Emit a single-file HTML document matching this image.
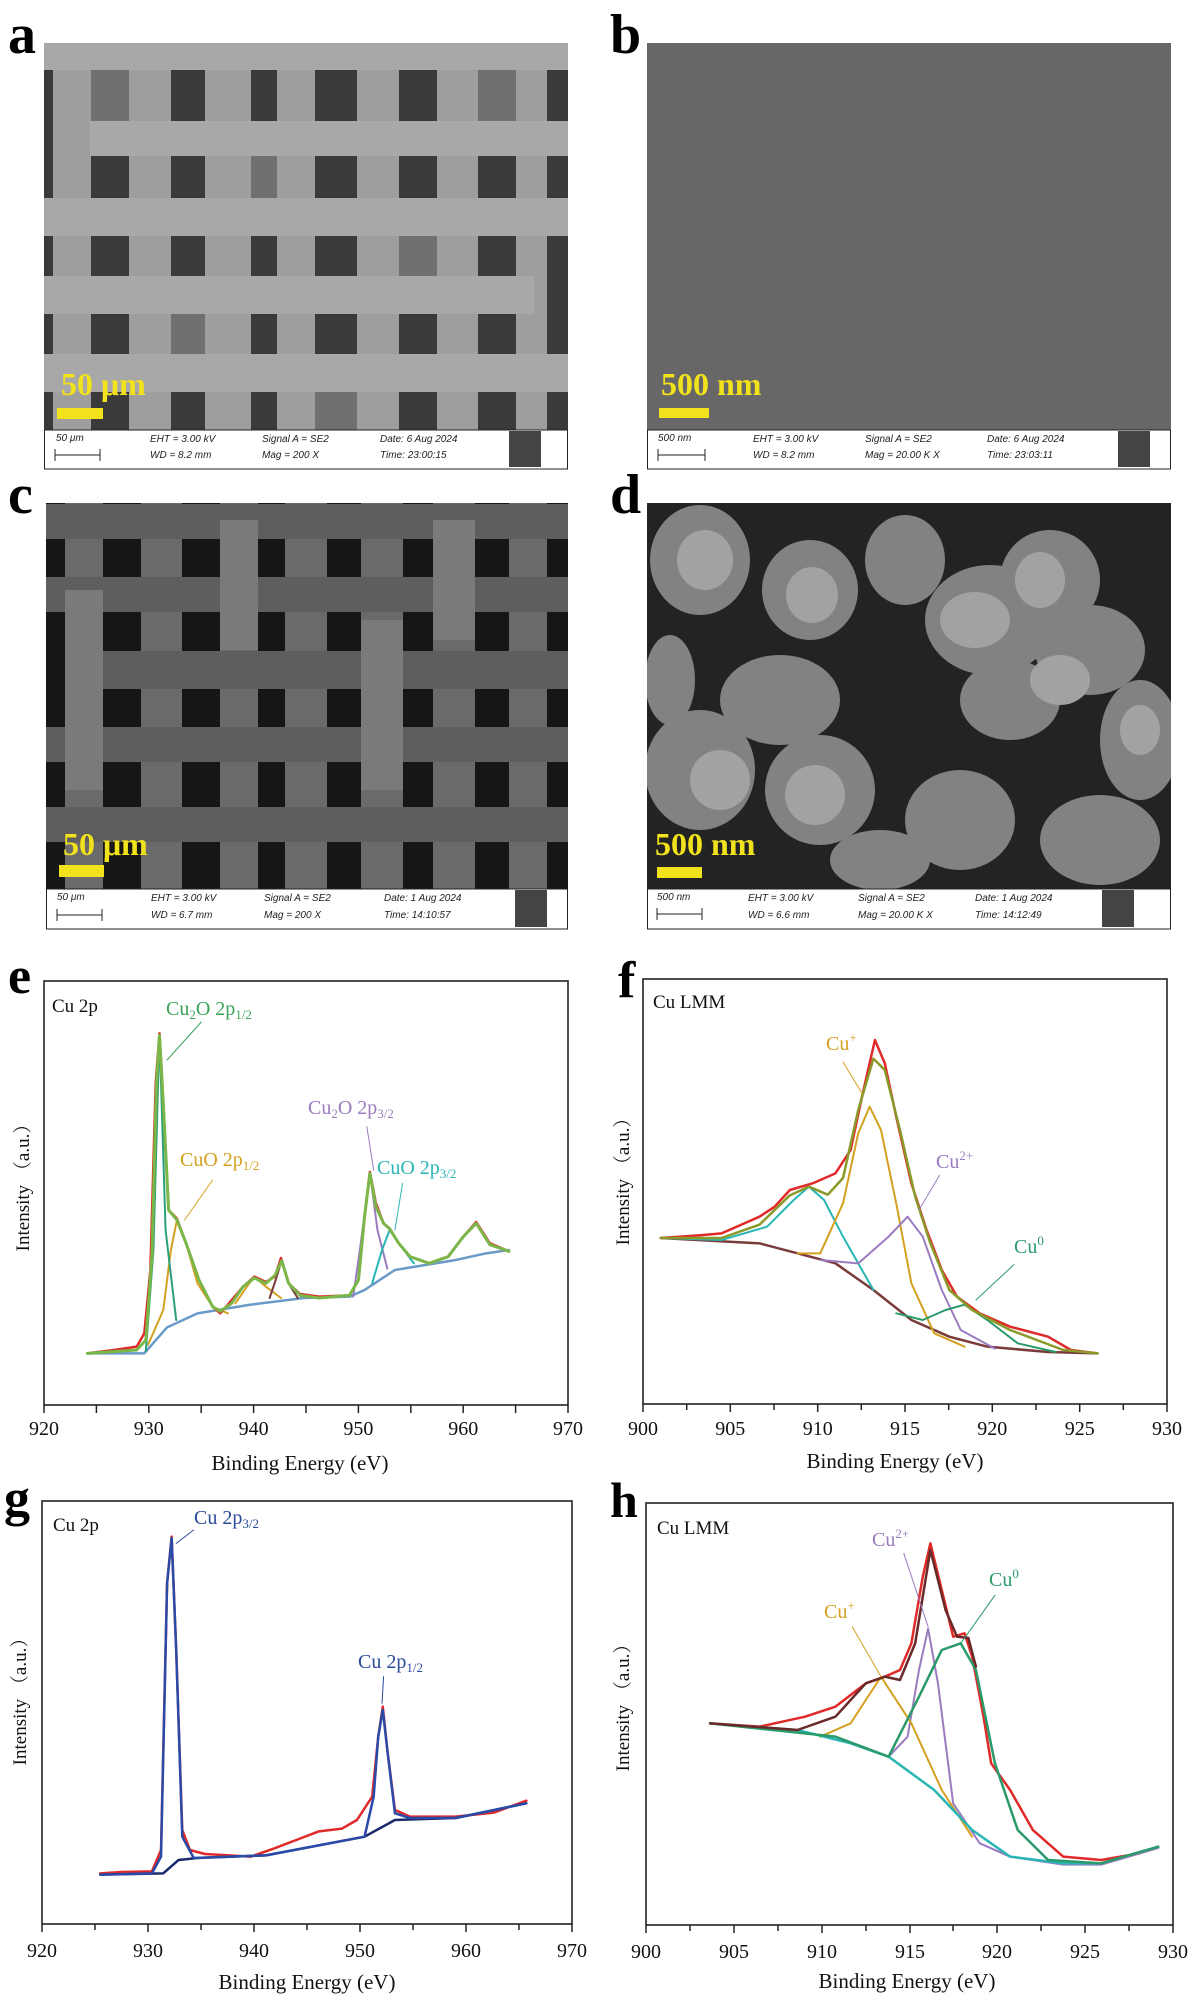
<!DOCTYPE html>
<html><head><meta charset="utf-8"><style>
html,body{margin:0;padding:0;background:#fff;}
svg{display:block;}
.t{font-family:"Liberation Serif",serif;}
.lt{font-family:"Liberation Serif",serif;font-weight:bold;}
.db{font-family:"Liberation Sans",sans-serif;font-style:italic;font-size:10px;fill:#222;}
.sb{font-family:"Liberation Serif",serif;font-weight:bold;font-size:32px;fill:#f2e21c;}
.c path,.c polyline,.c line{fill:none;vector-effect:non-scaling-stroke;stroke-linejoin:round;stroke-linecap:round;}
</style></head><body>
<svg width="1191" height="1995" viewBox="0 0 1191 1995" xmlns="http://www.w3.org/2000/svg">
<defs><clipPath id="cd"><rect x="647" y="503" width="524" height="386"/></clipPath></defs>
<rect width="1191" height="1995" fill="#fff"/>
<text class="lt" x="8" y="53" font-size="56">a</text>
<text class="lt" x="610" y="53" font-size="56">b</text>
<text class="lt" x="8" y="513" font-size="56">c</text>
<text class="lt" x="610" y="513" font-size="56">d</text>
<text class="lt" x="8" y="993" font-size="52">e</text>
<text class="lt" x="618" y="997" font-size="52">f</text>
<text class="lt" x="4" y="1515" font-size="52">g</text>
<text class="lt" x="610" y="1517" font-size="50">h</text>

<rect x="44" y="43" width="524" height="387" fill="#3a3a3a"/>
<g fill="#707070">
<rect x="91" y="70" width="38" height="51"/><rect x="251" y="156" width="26" height="42"/><rect x="399" y="236" width="38" height="40"/><rect x="171" y="314" width="34" height="40"/><rect x="478" y="70" width="38" height="51"/><rect x="315" y="392" width="42" height="38"/></g>
<g fill="#9e9e9e">
<rect x="53" y="43" width="38" height="387"/><rect x="129" y="43" width="42" height="387"/><rect x="205" y="43" width="46" height="387"/><rect x="277" y="43" width="38" height="387"/><rect x="357" y="43" width="42" height="387"/><rect x="437" y="43" width="41" height="387"/><rect x="516" y="43" width="31" height="387"/></g>
<g fill="#a8a8a8">
<rect x="44" y="43" width="524" height="27"/><rect x="90" y="121" width="478" height="35"/><rect x="44" y="198" width="524" height="38"/><rect x="44" y="276" width="490" height="38"/><rect x="44" y="354" width="524" height="38"/></g>
<text class="sb" x="61" y="395">50 μm</text>
<rect x="57" y="408" width="46" height="11" fill="#f2e21c"/>
<rect x="44.5" y="430" width="523" height="39" fill="#fff" stroke="#222"/>
<text class="db" x="56" y="441">50 μm</text><line x1="55" y1="455" x2="100" y2="455" stroke="#222"/><line x1="55" y1="449" x2="55" y2="461" stroke="#222"/><line x1="100" y1="449" x2="100" y2="461" stroke="#222"/>
<text class="db" x="150" y="442">EHT =  3.00 kV</text><text class="db" x="150" y="458">WD =  8.2 mm</text>
<text class="db" x="262" y="442">Signal A = SE2</text><text class="db" x="262" y="458">Mag =    200 X</text>
<text class="db" x="380" y="442">Date: 6 Aug 2024</text><text class="db" x="380" y="458">Time: 23:00:15</text>
<rect x="509" y="431" width="32" height="36" fill="#444"/>

<rect x="647" y="43" width="524" height="387" fill="#676767"/>
<text class="sb" x="661" y="395">500 nm</text>
<rect x="659" y="408" width="50" height="10" fill="#f2e21c"/>
<rect x="647.5" y="430" width="523" height="39" fill="#fff" stroke="#222"/>
<text class="db" x="658" y="441">500 nm</text><line x1="658" y1="455" x2="705" y2="455" stroke="#222"/><line x1="658" y1="449" x2="658" y2="461" stroke="#222"/><line x1="705" y1="449" x2="705" y2="461" stroke="#222"/>
<text class="db" x="753" y="442">EHT =  3.00 kV</text><text class="db" x="753" y="458">WD =  8.2 mm</text>
<text class="db" x="865" y="442">Signal A = SE2</text><text class="db" x="865" y="458">Mag =   20.00 K X</text>
<text class="db" x="987" y="442">Date: 6 Aug 2024</text><text class="db" x="987" y="458">Time: 23:03:11</text>
<rect x="1118" y="431" width="32" height="36" fill="#444"/>

<rect x="46" y="503" width="522" height="386" fill="#161616"/>
<g fill="#6a6a6a">
<rect x="65" y="503" width="38" height="386"/><rect x="141" y="503" width="41" height="386"/><rect x="220" y="503" width="38" height="386"/><rect x="285" y="503" width="42" height="386"/><rect x="361" y="503" width="42" height="386"/><rect x="433" y="503" width="42" height="386"/><rect x="509" y="503" width="38" height="386"/></g>
<g fill="#5e5e5e">
<rect x="46" y="504" width="522" height="35"/><rect x="46" y="577" width="522" height="35"/><rect x="100" y="651" width="468" height="38"/><rect x="46" y="727" width="522" height="35"/><rect x="46" y="807" width="522" height="35"/></g>
<g fill="#7a7a7a">
<rect x="65" y="590" width="38" height="200"/><rect x="220" y="520" width="38" height="130"/><rect x="361" y="620" width="42" height="170"/><rect x="433" y="520" width="42" height="120"/></g>
<text class="sb" x="63" y="855">50 μm</text>
<rect x="59" y="865" width="45" height="12" fill="#f2e21c"/>
<rect x="46.5" y="889" width="521" height="40" fill="#fff" stroke="#222"/>
<text class="db" x="57" y="900">50 μm</text><line x1="57" y1="915" x2="102" y2="915" stroke="#222"/><line x1="57" y1="909" x2="57" y2="921" stroke="#222"/><line x1="102" y1="909" x2="102" y2="921" stroke="#222"/>
<text class="db" x="151" y="901">EHT =  3.00 kV</text><text class="db" x="151" y="918">WD =  6.7 mm</text>
<text class="db" x="264" y="901">Signal A = SE2</text><text class="db" x="264" y="918">Mag =    200 X</text>
<text class="db" x="384" y="901">Date: 1 Aug 2024</text><text class="db" x="384" y="918">Time: 14:10:57</text>
<rect x="515" y="890" width="32" height="37" fill="#444"/>

<rect x="647" y="503" width="524" height="386" fill="#232323"/>
<g clip-path="url(#cd)">
<g fill="#828282">
<ellipse cx="700" cy="560" rx="50" ry="55"/><ellipse cx="810" cy="590" rx="48" ry="50"/><ellipse cx="905" cy="560" rx="40" ry="45"/><ellipse cx="990" cy="620" rx="65" ry="55"/><ellipse cx="1050" cy="580" rx="50" ry="50"/><ellipse cx="1090" cy="650" rx="55" ry="45"/><ellipse cx="780" cy="700" rx="60" ry="45"/><ellipse cx="700" cy="770" rx="55" ry="60"/><ellipse cx="820" cy="790" rx="55" ry="55"/><ellipse cx="1010" cy="700" rx="50" ry="40"/><ellipse cx="1140" cy="740" rx="40" ry="60"/><ellipse cx="960" cy="820" rx="55" ry="50"/><ellipse cx="1100" cy="840" rx="60" ry="45"/><ellipse cx="880" cy="860" rx="50" ry="30"/><ellipse cx="670" cy="680" rx="25" ry="45"/></g>
<g fill="#a2a2a2">
<ellipse cx="705" cy="560" rx="28" ry="30"/><ellipse cx="812" cy="595" rx="26" ry="28"/><ellipse cx="975" cy="620" rx="35" ry="28"/><ellipse cx="1040" cy="580" rx="25" ry="28"/><ellipse cx="1060" cy="680" rx="30" ry="25"/><ellipse cx="720" cy="780" rx="30" ry="30"/><ellipse cx="815" cy="795" rx="30" ry="30"/><ellipse cx="1140" cy="730" rx="20" ry="25"/></g>
</g>
<text class="sb" x="655" y="855">500 nm</text>
<rect x="657" y="867" width="45" height="11" fill="#f2e21c"/>
<rect x="647.5" y="889" width="523" height="40" fill="#fff" stroke="#222"/>
<text class="db" x="657" y="900">500 nm</text><line x1="657" y1="914" x2="702" y2="914" stroke="#222"/><line x1="657" y1="908" x2="657" y2="920" stroke="#222"/><line x1="702" y1="908" x2="702" y2="920" stroke="#222"/>
<text class="db" x="748" y="901">EHT =  3.00 kV</text><text class="db" x="748" y="918">WD =  6.6 mm</text>
<text class="db" x="858" y="901">Signal A = SE2</text><text class="db" x="858" y="918">Mag =   20.00 K X</text>
<text class="db" x="975" y="901">Date: 1 Aug 2024</text><text class="db" x="975" y="918">Time: 14:12:49</text>
<rect x="1102" y="890" width="32" height="37" fill="#444"/>

<g fill="none" stroke="#222" stroke-width="1.6">
<rect x="44" y="981" width="524" height="424"/>
<rect x="643" y="979" width="524" height="425"/>
<rect x="42" y="1501" width="530" height="423"/>
<rect x="646" y="1503" width="527" height="422"/>
</g>
<g stroke="#222" stroke-width="1.5">
<line x1="44" y1="1405" x2="44" y2="1413"/><line x1="96.4" y1="1405" x2="96.4" y2="1413"/><line x1="148.8" y1="1405" x2="148.8" y2="1413"/><line x1="201.2" y1="1405" x2="201.2" y2="1413"/><line x1="253.6" y1="1405" x2="253.6" y2="1413"/><line x1="306" y1="1405" x2="306" y2="1413"/><line x1="358.4" y1="1405" x2="358.4" y2="1413"/><line x1="410.8" y1="1405" x2="410.8" y2="1413"/><line x1="463.2" y1="1405" x2="463.2" y2="1413"/><line x1="515.6" y1="1405" x2="515.6" y2="1413"/><line x1="568" y1="1405" x2="568" y2="1413"/>
<line x1="643" y1="1404" x2="643" y2="1412"/><line x1="686.7" y1="1404" x2="686.7" y2="1410"/><line x1="730.3" y1="1404" x2="730.3" y2="1412"/><line x1="774" y1="1404" x2="774" y2="1410"/><line x1="817.7" y1="1404" x2="817.7" y2="1412"/><line x1="861.3" y1="1404" x2="861.3" y2="1410"/><line x1="905" y1="1404" x2="905" y2="1412"/><line x1="948.7" y1="1404" x2="948.7" y2="1410"/><line x1="992.3" y1="1404" x2="992.3" y2="1412"/><line x1="1036" y1="1404" x2="1036" y2="1410"/><line x1="1079.7" y1="1404" x2="1079.7" y2="1412"/><line x1="1123.3" y1="1404" x2="1123.3" y2="1410"/><line x1="1167" y1="1404" x2="1167" y2="1412"/>
<line x1="42" y1="1924" x2="42" y2="1932"/><line x1="95" y1="1924" x2="95" y2="1930"/><line x1="148" y1="1924" x2="148" y2="1932"/><line x1="201" y1="1924" x2="201" y2="1930"/><line x1="254" y1="1924" x2="254" y2="1932"/><line x1="307" y1="1924" x2="307" y2="1930"/><line x1="360" y1="1924" x2="360" y2="1932"/><line x1="413" y1="1924" x2="413" y2="1930"/><line x1="466" y1="1924" x2="466" y2="1932"/><line x1="519" y1="1924" x2="519" y2="1930"/><line x1="572" y1="1924" x2="572" y2="1932"/>
<line x1="646" y1="1925" x2="646" y2="1933"/><line x1="690" y1="1925" x2="690" y2="1931"/><line x1="734" y1="1925" x2="734" y2="1933"/><line x1="778" y1="1925" x2="778" y2="1931"/><line x1="822" y1="1925" x2="822" y2="1933"/><line x1="866" y1="1925" x2="866" y2="1931"/><line x1="910" y1="1925" x2="910" y2="1933"/><line x1="953" y1="1925" x2="953" y2="1931"/><line x1="997" y1="1925" x2="997" y2="1933"/><line x1="1041" y1="1925" x2="1041" y2="1931"/><line x1="1085" y1="1925" x2="1085" y2="1933"/><line x1="1129" y1="1925" x2="1129" y2="1931"/><line x1="1173" y1="1925" x2="1173" y2="1933"/>
</g>
<g class="t" font-size="20" fill="#111" text-anchor="middle">
<text x="44" y="1435">920</text><text x="148.8" y="1435">930</text><text x="253.6" y="1435">940</text><text x="358.4" y="1435">950</text><text x="463.2" y="1435">960</text><text x="568" y="1435">970</text>
<text x="643" y="1435">900</text><text x="730.3" y="1435">905</text><text x="817.7" y="1435">910</text><text x="905" y="1435">915</text><text x="992.3" y="1435">920</text><text x="1079.7" y="1435">925</text><text x="1167" y="1435">930</text>
<text x="42" y="1957">920</text><text x="148" y="1957">930</text><text x="254" y="1957">940</text><text x="360" y="1957">950</text><text x="466" y="1957">960</text><text x="572" y="1957">970</text>
<text x="646" y="1958">900</text><text x="734" y="1958">905</text><text x="822" y="1958">910</text><text x="910" y="1958">915</text><text x="997" y="1958">920</text><text x="1085" y="1958">925</text><text x="1173" y="1958">930</text>
<text x="300" y="1470" font-size="21">Binding Energy (eV)</text>
<text x="895" y="1468" font-size="21">Binding Energy (eV)</text>
<text x="307" y="1989" font-size="21">Binding Energy (eV)</text>
<text x="907" y="1988" font-size="21">Binding Energy (eV)</text>
</g>
<g class="t" font-size="19" fill="#111" text-anchor="middle" style='font-family:"Liberation Serif","Noto Serif CJK SC",serif'>
<text transform="translate(29,1183) rotate(-90)">Intensity （a.u.）</text>
<text transform="translate(629,1177) rotate(-90)">Intensity （a.u.）</text>
<text transform="translate(26,1697) rotate(-90)">Intensity （a.u.）</text>
<text transform="translate(629,1703) rotate(-90)">Intensity （a.u.）</text>
</g>
<g class="t" font-size="19" fill="#111">
<text x="52" y="1012">Cu 2p</text><text x="653" y="1008">Cu LMM</text>
<text x="53" y="1531">Cu 2p</text><text x="657" y="1534">Cu LMM</text>
</g>
<g class="t" font-size="20">
<text x="166" y="1015" fill="#3aa35a">Cu<tspan font-size="13" dy="4">2</tspan><tspan dy="-4">O 2p</tspan><tspan font-size="13" dy="4">1/2</tspan></text>
<text x="180" y="1166" fill="#d4a020">CuO 2p<tspan font-size="13" dy="4">1/2</tspan></text>
<text x="308" y="1114" fill="#9b7bbf">Cu<tspan font-size="13" dy="4">2</tspan><tspan dy="-4">O 2p</tspan><tspan font-size="13" dy="4">3/2</tspan></text>
<text x="377" y="1174" fill="#2ab5b5">CuO 2p<tspan font-size="13" dy="4">3/2</tspan></text>
<text x="826" y="1050" fill="#d4a020">Cu<tspan font-size="13" dy="-8">+</tspan></text>
<text x="936" y="1168" fill="#9b7bbf">Cu<tspan font-size="13" dy="-8">2+</tspan></text>
<text x="1014" y="1253" fill="#2a9a6a">Cu<tspan font-size="13" dy="-8">0</tspan></text>
<text x="194" y="1524" fill="#2a4a9a">Cu 2p<tspan font-size="13" dy="4">3/2</tspan></text>
<text x="358" y="1668" fill="#2a4a9a">Cu 2p<tspan font-size="13" dy="4">1/2</tspan></text>
<text x="872" y="1546" fill="#9b7bbf">Cu<tspan font-size="13" dy="-8">2+</tspan></text>
<text x="989" y="1586" fill="#2a9a6a">Cu<tspan font-size="13" dy="-8">0</tspan></text>
<text x="824" y="1618" fill="#d4a020">Cu<tspan font-size="13" dy="-8">+</tspan></text>
</g>

<g class="c" transform="translate(0,950) scale(0.75949,0.66667)">
<polyline stroke="#6a9ac8" stroke-width="2.5" points="115,605 190,605 200,592 220,566 260,545 330,532 400,522 460,520 480,510 520,480 600,465 640,455 670,450"/>
<polyline stroke="#d4a020" stroke-width="2" points="195,592 215,540 225,450 233,405 245,440 260,500 280,535 300,545"/>
<polyline stroke="#d4a020" stroke-width="2" points="310,530 325,505 335,490 350,505 370,522"/>
<polyline stroke="#7a3a3a" stroke-width="2" points="355,522 363,495 371,465 380,500 392,522"/>
<polyline stroke="#9b7bbf" stroke-width="2" points="465,520 475,440 487,333 497,420 510,478"/>
<polyline stroke="#2ab5b5" stroke-width="2" points="490,500 503,450 513,420 525,440 545,470"/>
<polyline stroke="#2aa07a" stroke-width="2" points="192,602 202,450 210,125 218,420 232,555"/>
<polyline stroke="#e02a2a" stroke-width="2.5" points="115,605 150,600 180,595 190,575 198,480 205,200 210,125 215,230 222,390 233,403 245,440 262,495 280,535 290,545 300,532 320,505 335,490 350,498 362,490 370,462 380,500 395,516 420,520 460,518 472,495 480,400 487,333 495,380 505,410 513,418 525,440 540,460 565,470 590,460 610,430 627,408 645,440 670,452"/>
<polyline stroke="#7ab648" stroke-width="3" points="115,605 180,600 192,585 200,460 206,200 210,128 215,230 222,390 233,405 245,440 262,495 280,535 290,542 305,530 320,505 335,492 350,500 362,488 371,466 380,500 395,518 420,522 460,518 472,495 480,400 487,335 495,385 505,410 513,418 525,440 540,460 565,470 590,460 610,430 627,410 645,442 670,452"/>
<line stroke="#3aa35a" stroke-width="1" x1="265" y1="108" x2="220" y2="165"/>
<line stroke="#d4a020" stroke-width="1" x1="280" y1="345" x2="243" y2="405"/>
<line stroke="#9b7bbf" stroke-width="1" x1="483" y1="265" x2="492" y2="330"/>
<line stroke="#2ab5b5" stroke-width="1" x1="530" y1="350" x2="520" y2="420"/>
<polyline stroke="#7a3a3a" stroke-width="2.5" points="870,432 1000,440 1100,470 1150,510 1200,555 1250,580 1300,595 1380,603 1445,605"/>
<polyline stroke="#2ab5b5" stroke-width="2" points="870,432 950,435 1010,415 1045,375 1065,355 1085,375 1110,430 1150,510"/>
<polyline stroke="#d4a020" stroke-width="2" points="1050,455 1080,455 1110,380 1130,275 1145,235 1160,270 1180,380 1200,500 1230,575 1270,595"/>
<polyline stroke="#9b7bbf" stroke-width="2" points="1080,465 1130,470 1170,430 1195,400 1215,430 1240,510 1265,570 1310,598"/>
<polyline stroke="#2a9a6a" stroke-width="2" points="1180,545 1215,555 1245,540 1270,532 1300,555 1340,590 1390,603"/>
<polyline stroke="#e02a2a" stroke-width="2.5" points="870,432 920,428 950,425 980,410 1000,400 1020,385 1040,360 1070,350 1100,335 1120,300 1135,220 1152,135 1165,170 1180,250 1200,350 1220,420 1240,480 1260,520 1290,545 1330,565 1380,580 1410,600 1445,605"/>
<polyline stroke="#8a9a2a" stroke-width="2.5" points="870,432 950,432 1000,412 1040,368 1065,355 1090,367 1110,342 1130,240 1150,163 1165,180 1185,270 1205,370 1225,440 1250,510 1280,540 1330,570 1400,600 1445,605"/>
<line stroke="#d4a020" stroke-width="1" x1="1135" y1="215" x2="1110" y2="168"/>
<line stroke="#9b7bbf" stroke-width="1" x1="1210" y1="390" x2="1237" y2="338"/>
<line stroke="#2a9a6a" stroke-width="1" x1="1285" y1="525" x2="1335" y2="472"/>
<polyline stroke="#e02a2a" stroke-width="2.5" points="132,1385 160,1383 200,1382 212,1350 220,950 226,880 232,1050 240,1320 250,1350 270,1356 330,1360 360,1348 390,1335 420,1322 450,1318 470,1305 490,1270 498,1180 504,1135 510,1200 520,1290 540,1300 600,1300 650,1294 693,1276"/>
<polyline stroke="#1a2a6a" stroke-width="2.5" points="132,1387 215,1385 235,1365 260,1362 350,1358 480,1330 520,1305 600,1302 693,1280"/>
<polyline stroke="#2a4aa8" stroke-width="2.5" points="132,1387 200,1385 212,1360 220,950 226,882 232,1050 240,1330 255,1362 350,1358 480,1330 492,1270 498,1180 504,1140 510,1200 520,1295 540,1302 600,1302 693,1280"/>
<line stroke="#2a4a9a" stroke-width="1" x1="255" y1="870" x2="232" y2="890"/>
<line stroke="#2a4a9a" stroke-width="1" x1="505" y1="1090" x2="503" y2="1130"/>
<polyline stroke="#e02a2a" stroke-width="2.5" points="935,1160 1000,1165 1060,1150 1100,1135 1140,1100 1165,1090 1185,1080 1200,1040 1215,940 1225,890 1240,960 1255,1030 1270,1025 1280,1060 1295,1150 1305,1220 1330,1260 1360,1320 1400,1360 1450,1365 1500,1355 1525,1345"/>
<polyline stroke="#9b7bbf" stroke-width="2" points="1170,1210 1195,1180 1210,1080 1222,1018 1235,1100 1255,1280 1290,1340 1330,1360 1400,1372 1450,1372 1525,1347"/>
<polyline stroke="#d4a020" stroke-width="2" points="1080,1180 1120,1160 1160,1090 1200,1160 1240,1260 1280,1330"/>
<polyline stroke="#2ab5b5" stroke-width="2.5" points="935,1160 1050,1170 1120,1190 1170,1210 1230,1260 1280,1320 1330,1360 1400,1370 1450,1370 1525,1345"/>
<polyline stroke="#2a9a6a" stroke-width="2.5" points="935,1160 1100,1180 1170,1210 1210,1120 1240,1050 1265,1040 1285,1080 1310,1220 1340,1320 1380,1365 1450,1370 1525,1345"/>
<polyline stroke="#6a2a2a" stroke-width="2.5" points="935,1160 1050,1170 1100,1150 1140,1100 1165,1090 1185,1095 1205,1040 1225,900 1245,990 1260,1030 1275,1032 1285,1075"/>
<line stroke="#9b7bbf" stroke-width="1" x1="1222" y1="1015" x2="1190" y2="905"/>
<line stroke="#2a9a6a" stroke-width="1" x1="1265" y1="1040" x2="1310" y2="968"/>
<line stroke="#d4a020" stroke-width="1" x1="1160" y1="1090" x2="1122" y2="1015"/>
</g>
</svg>
</body></html>
